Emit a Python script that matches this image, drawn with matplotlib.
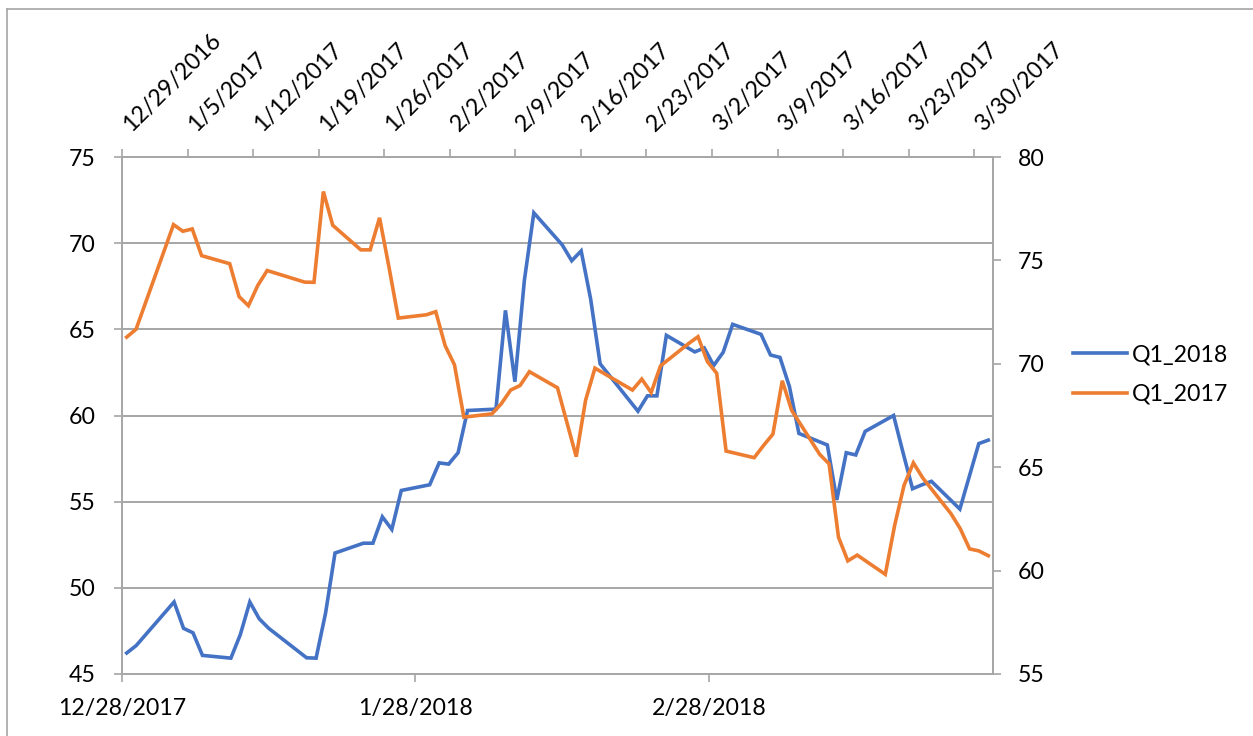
import matplotlib
matplotlib.use("Agg")
import matplotlib.pyplot as plt
import matplotlib.dates as mdates
import matplotlib.transforms as mtransforms
from matplotlib.lines import Line2D
import datetime as dt

# ---- data ----
dates_2018 = ["2017-12-28", "2017-12-29", "2018-01-02", "2018-01-03", "2018-01-04", "2018-01-05",
              "2018-01-08", "2018-01-09", "2018-01-10", "2018-01-11", "2018-01-12",
              "2018-01-16", "2018-01-17", "2018-01-18", "2018-01-19",
              "2018-01-22", "2018-01-23", "2018-01-24", "2018-01-25", "2018-01-26",
              "2018-01-29", "2018-01-30", "2018-01-31", "2018-02-01", "2018-02-02",
              "2018-02-05", "2018-02-06", "2018-02-07", "2018-02-08", "2018-02-09",
              "2018-02-12", "2018-02-13", "2018-02-14", "2018-02-15", "2018-02-16",
              "2018-02-20", "2018-02-21", "2018-02-22", "2018-02-23",
              "2018-02-26", "2018-02-27", "2018-02-28", "2018-03-01", "2018-03-02",
              "2018-03-05", "2018-03-06", "2018-03-07", "2018-03-08", "2018-03-09",
              "2018-03-12", "2018-03-13", "2018-03-14", "2018-03-15", "2018-03-16",
              "2018-03-19", "2018-03-20", "2018-03-21", "2018-03-22", "2018-03-23",
              "2018-03-26", "2018-03-27", "2018-03-28", "2018-03-29"]
q1_2018 = [46.22, 46.65, 49.18, 47.65, 47.39, 46.08,
           45.92, 47.29, 49.18, 48.20, 47.65,
           45.94, 45.92, 48.53, 52.02,
           52.59, 52.59, 54.12, 53.39, 55.65,
           55.98, 57.25, 57.18, 57.84, 60.29,
           60.37, 66.10, 61.96, 67.84, 71.76,
           69.90, 68.98, 69.55, 66.76, 63.00,
           60.25, 61.14, 61.14, 64.65,
           63.69, 63.92, 62.90, 63.67, 65.29,
           64.71, 63.51, 63.37, 61.67, 58.96,
           58.29, 55.10, 57.84, 57.71, 59.08,
           60.00, 57.84, 55.75, 55.98, 56.18,
           54.57, 56.47, 58.37, 58.57]

dates_2017 = ["2016-12-29", "2016-12-30", "2017-01-03", "2017-01-04", "2017-01-05", "2017-01-06",
              "2017-01-09", "2017-01-10", "2017-01-11", "2017-01-12", "2017-01-13",
              "2017-01-17", "2017-01-18", "2017-01-19", "2017-01-20",
              "2017-01-23", "2017-01-24", "2017-01-25", "2017-01-26", "2017-01-27",
              "2017-01-30", "2017-01-31", "2017-02-01", "2017-02-02", "2017-02-03",
              "2017-02-06", "2017-02-07", "2017-02-08", "2017-02-09", "2017-02-10",
              "2017-02-13", "2017-02-14", "2017-02-15", "2017-02-16", "2017-02-17",
              "2017-02-21", "2017-02-22", "2017-02-23", "2017-02-24",
              "2017-02-27", "2017-02-28", "2017-03-01", "2017-03-02", "2017-03-03",
              "2017-03-06", "2017-03-07", "2017-03-08", "2017-03-09", "2017-03-10",
              "2017-03-13", "2017-03-14", "2017-03-15", "2017-03-16", "2017-03-17",
              "2017-03-20", "2017-03-21", "2017-03-22", "2017-03-23", "2017-03-24",
              "2017-03-27", "2017-03-28", "2017-03-29", "2017-03-30", "2017-03-31"]
q1_2017 = [71.29, 71.67, 76.73, 76.41, 76.52, 75.23,
           74.84, 73.25, 72.81, 73.79, 74.51,
           73.95, 73.94, 78.33, 76.70,
           75.51, 75.51, 77.06, 74.69, 72.21,
           72.37, 72.52, 70.88, 69.95, 67.42,
           67.58, 68.07, 68.73, 68.95, 69.62,
           68.84, 67.17, 65.51, 68.24, 69.79,
           68.73, 69.26, 68.61, 69.90,
           70.98, 71.31, 70.11, 69.54, 65.78,
           65.46, 66.05, 66.60, 69.18, 67.75,
           65.62, 65.16, 61.62, 60.47, 60.75,
           59.82, 62.19, 64.12, 65.21, 64.48,
           62.76, 62.03, 61.05, 60.95, 60.72]

bottom_ticks = ["2017-12-28", "2018-01-28", "2018-02-28"]
top_ticks = ["2016-12-29", "2017-01-05", "2017-01-12", "2017-01-19", "2017-01-26",
             "2017-02-02", "2017-02-09", "2017-02-16", "2017-02-23", "2017-03-02",
             "2017-03-09", "2017-03-16", "2017-03-23", "2017-03-30"]
left_ticks = [45, 50, 55, 60, 65, 70, 75]
right_ticks = [55, 60, 65, 70, 75, 80]

# ---- styling ----
BLUE = "#4472C4"
ORANGE = "#ED7D31"
GRAY = "#A6A6A6"
FONT = ["Lato", "DejaVu Sans"]
FS = 16.7
plt.rcParams["font.family"] = FONT

W, H = 1253, 736
fig = plt.figure(figsize=(W / 100, H / 100), dpi=100)
L, R, T, B = 122, 993, 157, 674
pos = [L / W, 1 - B / H, (R - L) / W, (B - T) / H]

def num(s):
    return mdates.date2num(dt.datetime.strptime(s, "%Y-%m-%d"))

def fmt(s):
    d = dt.datetime.strptime(s, "%Y-%m-%d")
    return f"{d.month}/{d.day}/{d.year}"

HALF = 0.5  # Excel places date points in the middle of the day slot

ax = fig.add_axes(pos)
ax.plot([num(d) + HALF for d in dates_2018], q1_2018, color=BLUE, lw=2.6,
        solid_joinstyle="miter", label="Q1_2018", zorder=3)
ax.set_xlim(num("2017-12-28"), num("2018-03-30"))
ax.set_ylim(45, 75)
ax.set_yticks(left_ticks)
ax.set_xticks([num(d) for d in bottom_ticks])
ax.set_xticklabels([fmt(d) for d in bottom_ticks])
ax.grid(axis="y", color=GRAY, lw=1.4)
ax.set_axisbelow(True)
for sp in ax.spines.values():
    sp.set_color(GRAY)
    sp.set_linewidth(1.4)
ax.tick_params(axis="both", direction="out", length=6, width=1.2, color=GRAY,
               labelsize=FS, labelcolor="black")
ax.tick_params(axis="y", pad=13)
ax.tick_params(axis="x", pad=11)

ax2 = fig.add_axes(pos, frameon=False)
ax2.patch.set_visible(False)
ax2.plot([num(d) + HALF for d in dates_2017], q1_2017, color=ORANGE, lw=2.6,
         solid_joinstyle="miter", label="Q1_2017", zorder=3)
ax2.set_xlim(num("2016-12-29"), num("2017-04-01"))
ax2.set_ylim(55, 80)
ax2.xaxis.tick_top()
ax2.yaxis.tick_right()
ax2.set_yticks(right_ticks)
ax2.set_xticks([num(d) for d in top_ticks])
ax2.set_xticklabels([fmt(d) for d in top_ticks])
ax2.tick_params(axis="both", direction="out", length=6, width=1.2, color=GRAY,
                labelsize=FS, labelcolor="black")
ax2.tick_params(axis="y", pad=12)
ax2.tick_params(axis="x", pad=12)
shift = mtransforms.ScaledTranslation(9 / 100, 0, fig.dpi_scale_trans)
for lab in ax2.get_xticklabels():
    lab.set_rotation(45)
    lab.set_ha("left")
    lab.set_va("baseline")
    lab.set_rotation_mode("anchor")
    lab.set_transform(lab.get_transform() + shift)

handles = [Line2D([], [], color=BLUE, lw=2.6), Line2D([], [], color=ORANGE, lw=2.6)]
fig.legend(handles, ["Q1_2018", "Q1_2017"], loc="center left",
           bbox_to_anchor=(1073 / W, 1 - 374.5 / H), frameon=False,
           fontsize=FS, handlelength=2.33, handletextpad=0.2, labelspacing=0.8,
           borderpad=0, borderaxespad=0)

# chart-area border (top and left edges visible in the crop)
fig.add_artist(Line2D([7 / W, 1], [1 - 8.5 / H] * 2, transform=fig.transFigure,
                      color=GRAY, lw=1.2))
fig.add_artist(Line2D([7 / W] * 2, [0, 1 - 8.5 / H], transform=fig.transFigure,
                      color=GRAY, lw=1.2))

fig.savefig("out.png", dpi=100)
